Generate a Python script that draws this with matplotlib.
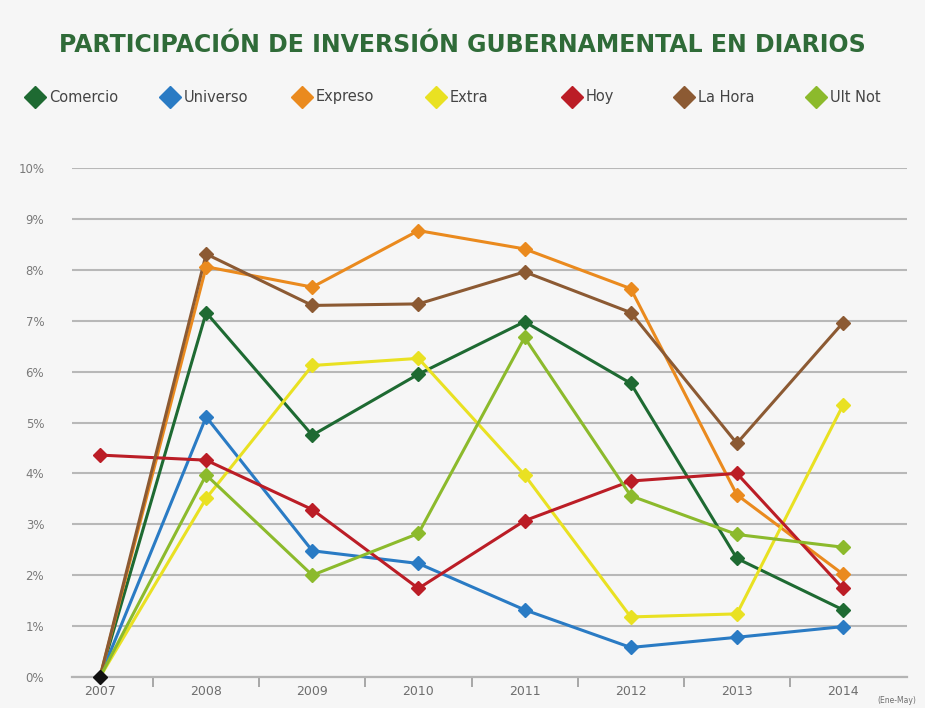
import matplotlib
matplotlib.use("Agg")
import matplotlib.pyplot as plt
from matplotlib.lines import Line2D

years = [2007, 2008, 2009, 2010, 2011, 2012, 2013, 2014]
year_labels = ["2007", "2008", "2009", "2010", "2011", "2012", "2013", "2014"]

names = ["Comercio", "Universo", "Expreso", "Extra", "Hoy", "La Hora", "Ult Not"]
colors = ["#1e6a32", "#2a7bc4", "#ea8a1e", "#e9e122", "#bb1d26", "#8c5a33", "#8cba2c"]

comercio = [0.0, 7.16, 4.75, 5.95, 6.98, 5.77, 2.33, 1.32]
universo = [0.0, 5.11, 2.48, 2.23, 1.32, 0.58, 0.78, 0.99]
expreso = [0.0, 8.06, 7.66, 8.77, 8.41, 7.63, 3.58, 2.02]
extra = [0.0, 3.51, 6.12, 6.26, 3.97, 1.18, 1.24, 5.34]
hoy = [4.36, 4.26, 3.29, 1.74, 3.07, 3.85, 4.00, 1.74]
la_hora = [0.0, 8.31, 7.30, 7.33, 7.96, 7.16, 4.59, 6.96]
ult_not = [0.0, 3.97, 2.00, 2.82, 6.67, 3.56, 2.80, 2.55]

series = [comercio, universo, expreso, extra, hoy, la_hora, ult_not]

bg = "#f6f6f6"
fig = plt.figure(figsize=(9.25, 7.08), dpi=100, facecolor=bg)
ax = fig.add_axes([72 / 925, 1 - 677 / 708, (907 - 72) / 925, (677 - 168) / 708])
ax.set_facecolor(bg)

ax.set_xlim(2006.736, 2014.603)
ax.set_ylim(0, 10)
ax.set_yticks(range(0, 11))
ax.set_yticklabels([f"{i}%" for i in range(0, 11)])
ax.yaxis.grid(True, color="#b8b8b8", lw=1.5)
ax.set_axisbelow(True)
ax.tick_params(axis="y", length=0, pad=20, labelsize=8.5, labelcolor="#7a7a7a")

ax.set_xticks(years)
ax.set_xticklabels(year_labels)
ax.set_xticks([y + 0.5 for y in years[:-1]], minor=True)
ax.tick_params(axis="x", which="major", length=0, pad=6, labelsize=9, labelcolor="#6e6e6e")
ax.tick_params(axis="x", which="minor", length=7, width=1.2, color="#9a9a9a", direction="out")

for s in ["top", "right", "left"]:
    ax.spines[s].set_visible(False)
ax.spines["bottom"].set_color("#b4b4b4")
ax.spines["bottom"].set_linewidth(1.6)

for vals, c in zip(series, colors):
    ax.plot(years, vals, color=c, lw=2.2, zorder=3, clip_on=False)
    start = 0 if vals[0] > 0 else 1
    ax.plot(years[start:], vals[start:], ls="none", marker="D", ms=7, color=c,
            zorder=4, clip_on=False)
ax.plot([years[0]], [0], ls="none", marker="D", ms=7, color="#111111", zorder=5, clip_on=False)

ax.text(2014.32, -0.38, "(Ene-May)", fontsize=5.5, color="#6e6e6e", ha="left", va="top",
        transform=ax.transData)

fig.text(462 / 925, 1 - 45 / 708, "PARTICIPACIÓN DE INVERSIÓN GUBERNAMENTAL EN DIARIOS",
         ha="center", va="center", fontsize=17, fontweight="bold", color="#2f6b38",
         family="DejaVu Sans")

leg_marker_x = [35, 170, 302, 436, 572, 684, 816]
for px, name, c in zip(leg_marker_x, names, colors):
    fig.add_artist(Line2D([px / 925], [1 - 97 / 708], marker="D", ms=11, color=c, ls="none",
                          transform=fig.transFigure))
    fig.text((px + 14) / 925, 1 - 97 / 708, name, ha="left", va="center", fontsize=10.5,
             color="#444444")

fig.savefig("out.png", dpi=100, facecolor=bg)
